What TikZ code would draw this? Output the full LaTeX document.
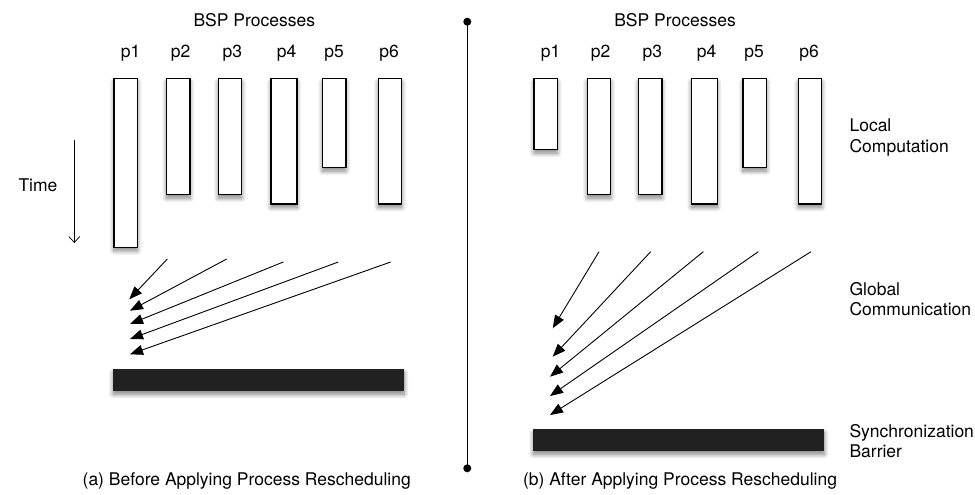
\documentclass[tikz,border=0pt]{standalone}
\usepackage{fontspec}
\setmainfont{TeX Gyre Heros}
\usetikzlibrary{arrows.meta,shadows.blur}

\begin{document}
\begin{tikzpicture}[x=1pt, y=-1pt,
    every node/.style={font=\fontsize{17.5}{20.5}\selectfont},
    soft/.style={blur shadow={shadow xshift=0pt, shadow yshift=-3.5pt, shadow blur radius=4.5pt, shadow blur steps=10, shadow opacity=50}},
    proc/.style={draw, fill=white, line width=1.2pt, anchor=north, inner sep=0pt, soft},
    barrier/.style={fill=black!87, inner sep=0pt, minimum width=291pt, minimum height=21.5pt, soft},
    dot/.style={circle, fill=black, inner sep=0pt, minimum size=8pt},
    msg/.style={-{Triangle[length=13pt, width=10pt]}, line width=0.9pt}]
    \useasboundingbox (0,0) rectangle (975,495);

    \foreach \n/\x/\lx/\h/\w in {1/125.7/130.7/168.7/23.5, 2/178.3/180.7/116/23.5, 3/230/232.3/116/23.5,
                                 4/284/286.7/125.3/26, 5/334.2/334/89/23.5, 6/390/389/125.3/23.5} {
        \node[proc, minimum width=\w pt, minimum height=\h pt] (la\n) at (\x,78) {};
        \node (lp\n) at (\lx,53) {p\n};
    }
    \foreach \n/\x/\lx/\h/\w in {1/545.8/550.7/71/23.5, 2/599/600.7/116/23.5, 3/650.2/652.3/116/23.5,
                                 4/704.3/706.7/125.3/26, 5/754.7/754/89/23.5, 6/810/809/125.3/23.5} {
        \node[proc, minimum width=\w pt, minimum height=\h pt] (ra\n) at (\x,78) {};
        \node (rp\n) at (\lx,53) {p\n};
    }

    \node (lbsp) at (254.3,20) {BSP Processes};
    \node (rbsp) at (675,20) {BSP Processes};

    \coordinate (t0) at (74.3,140);
    \coordinate (t1) at (74.3,243);
    \draw[-{Straight Barb[length=6pt, width=11pt]}, line width=0.7pt] (t0) -- (t1);
    \node (time) at (38,185) {Time};

    \node[dot] (top) at (467.3,21.7) {};
    \node[dot] (bot) at (467.3,468.3) {};
    \draw[line width=1.5pt] (top.center) -- (bot.center);

    \foreach \n/\sx/\sy/\ex/\ey in {1/167.3/259/129.3/299.3, 2/226.7/259/130/310.7, 3/283.3/262/130/324,
                                    4/338.3/262/130/339, 5/390.7/262/130/354.3} {
        \coordinate (ls\n) at (\sx,\sy);
        \coordinate (le\n) at (\ex,\ey);
        \draw[msg] (ls\n) -- (le\n);
    }
    \foreach \n/\sx/\ex/\ey in {1/599/552.7/328.3, 2/650.7/552.7/356.7, 3/703.3/550/376.7,
                                4/758.3/550/396, 5/811/550/415} {
        \coordinate (rs\n) at (\sx,251.7);
        \coordinate (re\n) at (\ex,\ey);
        \draw[msg] (rs\n) -- (re\n);
    }

    \node[barrier] (lbar) at (258.7,380) {};
    \node[barrier] (rbar) at (678.8,440) {};

    \node[anchor=west, align=left] (local) at (846,137.7) {Local\\Computation};
    \node[anchor=west, align=left] (global) at (846,299) {Global\\Communication};
    \node[anchor=west, align=left] (sync) at (846,441) {Synchronization\\Barrier};

    \node (capa) at (246.7,481) {(a) Before Applying Process Rescheduling};
    \node (capb) at (680,481) {(b) After Applying Process Rescheduling};
\end{tikzpicture}
\end{document}
